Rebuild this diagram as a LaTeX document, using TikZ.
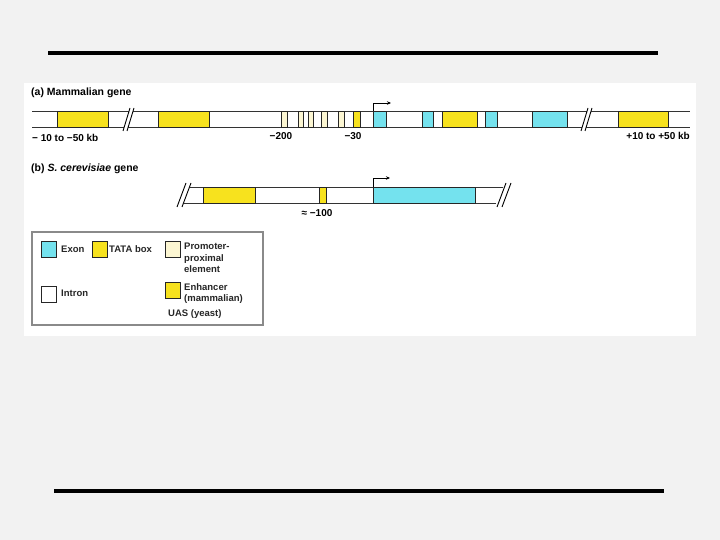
\documentclass[tikz,border=0pt]{standalone}
\usepackage{fontspec}
\setmainfont{Liberation Sans}
\usetikzlibrary{arrows.meta}
\definecolor{exoncyan}{HTML}{74E2EE}
\definecolor{tatayellow}{HTML}{F7E21E}
\definecolor{ppepale}{HTML}{FCF6D2}
\definecolor{slidegray}{HTML}{F2F2F2}
\definecolor{legendrule}{HTML}{8A8A8A}

\begin{document}
\begin{tikzpicture}[x=1pt, y=-1pt,
  every node/.style={font=\fontsize{10}{11.5}\selectfont\bfseries, inner sep=0pt},
  title/.style={font=\fontsize{10.5}{12}\selectfont\bfseries, anchor=west},
  keytext/.style={font=\fontsize{9.5}{11.5}\selectfont\bfseries, text=black!85},
  seg/.style={draw=black!85, line width=0.7pt, minimum height=16pt, anchor=north west},
  exon/.style={seg, fill=exoncyan},
  yellowbox/.style={seg, fill=tatayellow},
  ppe/.style={seg, fill=ppepale},
  swatch/.style={draw=black!85, line width=0.7pt, minimum width=15pt, minimum height=16pt, anchor=north west},
  dna/.style={draw=black!80, line width=0.9pt},
  brk/.style={draw=black, line width=0.9pt},
  tss/.style={draw=black, line width=0.7pt, -{Stealth[length=4pt, width=3.5pt]}},
  rule/.style={draw=black, line width=3.2pt}
]
\fill[slidegray] (0,0) rectangle (720,540);
\useasboundingbox (0,0) rectangle (720,540);

\draw[rule] (48,53) -- (658,53);
\draw[rule] (54,491) -- (664,491);

\fill[white] (24,83) rectangle (696,336);

% (a) Mammalian gene
\node[title] (titleA) at (31,93) {(a) Mammalian gene};

\draw[dna] (32,111) -- (690,111);
\draw[dna] (32,127) -- (690,127);

\node[yellowbox, minimum width=51pt] (enhA1) at (57,111) {};
\node[yellowbox, minimum width=51pt] (enhA2) at (158,111) {};
\node[ppe, minimum width=6pt] (ppe1) at (281,111) {};
\node[ppe, minimum width=5pt] (ppe2) at (298,111) {};
\node[ppe, minimum width=5pt] (ppe3) at (308,111) {};
\node[ppe, minimum width=6pt] (ppe4) at (321,111) {};
\node[ppe, minimum width=6pt] (ppe5) at (338,111) {};
\node[yellowbox, minimum width=7pt] (tataA) at (353,111) {};
\node[exon, minimum width=13pt] (exA1) at (373,111) {};
\node[exon, minimum width=11pt] (exA2) at (422,111) {};
\node[yellowbox, minimum width=35pt] (enhA3) at (442,111) {};
\node[exon, minimum width=12pt] (exA3) at (485,111) {};
\node[exon, minimum width=35pt] (exA4) at (532,111) {};
\node[yellowbox, minimum width=50pt] (enhA4) at (618,111) {};

% breaks
\begin{scope}[shift={(129,119)}]
  \fill[white] (-6,12) -- (1,-11) -- (5,-11) -- (-2,12) -- cycle;
  \draw[brk] (-6,12) -- (1,-11) (-2,12) -- (5,-11);
\end{scope}
\begin{scope}[shift={(587,119)}]
  \fill[white] (-6,12) -- (1,-11) -- (5,-11) -- (-2,12) -- cycle;
  \draw[brk] (-6,12) -- (1,-11) (-2,12) -- (5,-11);
\end{scope}

\coordinate (tssA) at (391,103);
\draw[tss] (exA1.north west) |- (tssA);

\node[anchor=west] (kbL) at (32,138) {− 10 to −50 kb};
\node (m200) at (281,136) {−200};
\node (m30) at (353,136) {−30};
\node[anchor=east] (kbR) at (690,136) {+10 to +50 kb};

% (b) yeast gene
\node[title] (titleB) at (31,169) {(b) \textit{S. cerevisiae} gene};

\draw[dna] (190,187) -- (503,187);
\draw[dna] (184,203) -- (496,203);

\node[yellowbox, minimum width=52pt] (uasB) at (203,187) {};
\node[yellowbox, minimum width=7pt] (tataB) at (319,187) {};
\node[exon, minimum width=102pt] (exB) at (373,187) {};

\draw[brk] (177,207) -- (186,183) (182,207) -- (191,183);
\draw[brk] (497,207) -- (506,183) (502,207) -- (511,183);

\coordinate (tssB) at (390,178);
\draw[tss] (exB.north west) |- (tssB);

\node (m100) at (317,213) {≈ −100};

% legend
\draw[legendrule, line width=1.3pt] (32,232) rectangle (263,325);

\node[swatch, fill=exoncyan] (keyExon) at (41,241) {};
\node[keytext, anchor=west] (lblExon) at (61,249) {Exon};
\node[swatch, fill=tatayellow] (keyTata) at (92,241) {};
\node[keytext, anchor=west] (lblTata) at (109,249) {TATA box};
\node[swatch, fill=ppepale] (keyPpe) at (165,241) {};
\node[keytext, anchor=north west, align=left] (lblPpe) at (184,243) {Promoter-\\proximal\\element};
\node[swatch, fill=white] (keyIntron) at (41,286) {};
\node[keytext, anchor=west] (lblIntron) at (61,293) {Intron};
\node[swatch, fill=tatayellow] (keyEnh) at (165,282) {};
\node[keytext, anchor=north west, align=left] (lblEnh) at (184,283) {Enhancer\\(mammalian)};
\node[keytext, anchor=west] (lblUas) at (168,314) {UAS (yeast)};

\end{tikzpicture}
\end{document}
